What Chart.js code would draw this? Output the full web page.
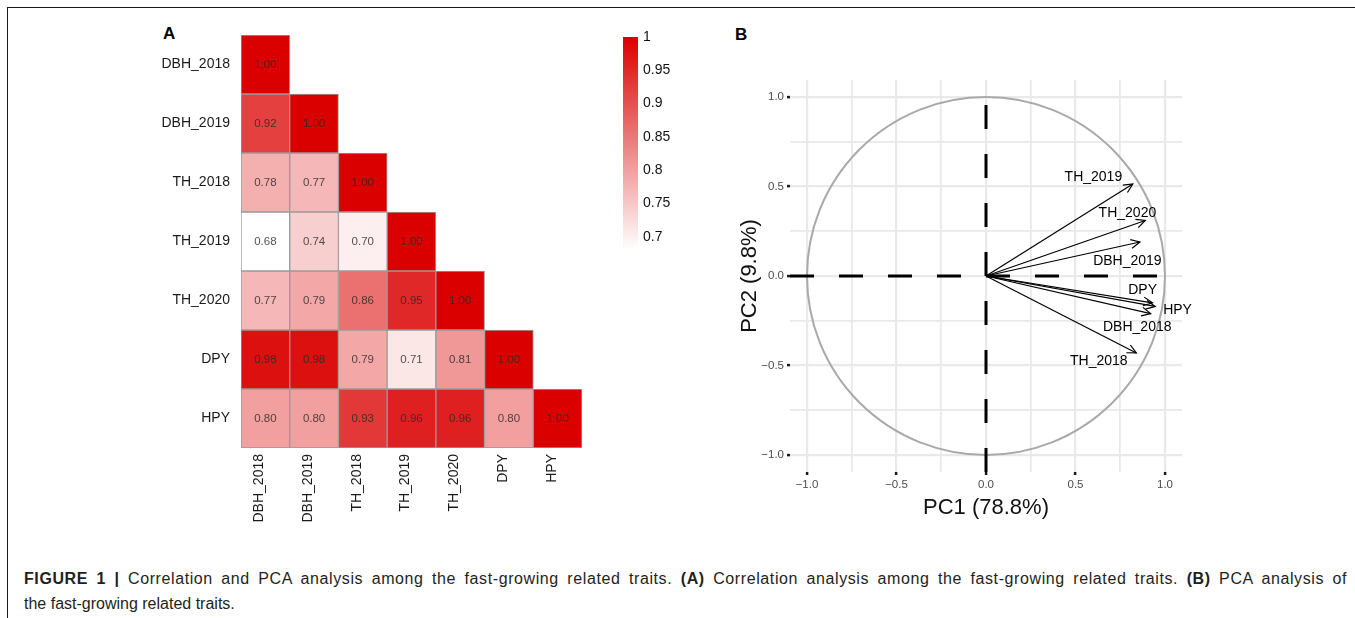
<!DOCTYPE html>
<html>
<head>
<meta charset="utf-8">
<script src="https://cdn.jsdelivr.net/npm/chart.js@4.4.1/dist/chart.umd.min.js"></script>
<style>
  html, body { margin: 0; padding: 0; background: #fff; }
  body { width: 1355px; height: 618px; position: relative; overflow: hidden; font-family: "Liberation Sans", Arial, sans-serif; }
  .frame { position: absolute; left: 7px; top: 7px; width: 1360px; height: 620px; border-top: 1.5px solid #1a1a1a; border-left: 1.5px solid #1a1a1a; }
  canvas { position: absolute; }
  .panel { position: absolute; font-weight: bold; font-size: 17px; color: #000; }
  .caption { position: absolute; left: 24px; top: 566px; width: 1323px; font-size: 16px; line-height: 25px; color: #231f20; }
  .caption .l1 { text-align: justify; text-align-last: justify; white-space: nowrap; letter-spacing: 0.6px; }
</style>
</head>
<body>
<div class="frame"></div>
<div class="panel" style="left:163px;top:24px;">A</div>
<div class="panel" style="left:735px;top:25px;">B</div>
<canvas id="heat" width="440" height="505" style="left:150px;top:25px;"></canvas>
<canvas id="cbar" width="80" height="240" style="left:615px;top:25px;"></canvas>
<canvas id="pca" width="470" height="460" style="left:725px;top:70px;"></canvas>
<div class="caption">
  <div class="l1"><b>FIGURE 1 |</b> Correlation and PCA analysis among the fast-growing related traits. <b>(A)</b> Correlation analysis among the fast-growing related traits. <b>(B)</b> PCA analysis of</div>
  <div>the fast-growing related traits.</div>
</div>
<script>
Chart.defaults.font.family = '"Liberation Sans", Arial, sans-serif';
Chart.defaults.color = '#1a1a1a';

// correlation matrix (lower triangle, row by row)
const traits = ['DBH_2018', 'DBH_2019', 'TH_2018', 'TH_2019', 'TH_2020', 'DPY', 'HPY'];
const corrRows = [
  [1.00],
  [0.92, 1.00],
  [0.78, 0.77, 1.00],
  [0.68, 0.74, 0.70, 1.00],
  [0.77, 0.79, 0.86, 0.95, 1.00],
  [0.98, 0.98, 0.79, 0.71, 0.81, 1.00],
  [0.80, 0.80, 0.93, 0.96, 0.96, 0.80, 1.00]
];
const colorbarTicks = [0.7, 0.75, 0.8, 0.85, 0.9, 0.95, 1];

// PCA loadings and where their labels sit
const pcaNames = ['DBH_2018', 'DBH_2019', 'TH_2018', 'TH_2019', 'TH_2020', 'DPY', 'HPY'];
const pc1 = [0.92, 0.86, 0.84, 0.82, 0.89, 0.93, 0.945];
const pc2 = [-0.21, 0.19, -0.43, 0.514, 0.31, -0.15, -0.17];
const labelX = [0.845, 0.79, 0.63, 0.60, 0.79, 0.875, 1.07];
const labelY = [-0.285, 0.085, -0.475, 0.55, 0.35, -0.08, -0.19];
const pcaTicks = [-1, -0.75, -0.5, -0.25, 0, 0.25, 0.5, 0.75, 1];
const AX = 1.095;

const cMin = Math.min(...corrRows.flat());
const cMax = 1;
const lowCol = [255, 255, 255];
const highCol = [219, 0, 0];

function fillFor(v) {
  const t = Math.max(0, Math.min(1, (v - cMin) / (cMax - cMin)));
  const c = lowCol.map((l, k) => Math.round(l + (highCol[k] - l) * t));
  return `rgb(${c[0]},${c[1]},${c[2]})`;
}

const cellLabels = {
  id: 'cellLabels',
  afterDatasetsDraw(chart) {
    const ctx = chart.ctx;
    ctx.save();
    ctx.font = '11.5px "Liberation Sans", Arial, sans-serif';
    ctx.fillStyle = 'rgba(40,40,40,0.8)';
    ctx.textAlign = 'center';
    ctx.textBaseline = 'middle';
    corrRows.forEach((row, i) => {
      chart.getDatasetMeta(i).data.forEach((bar, j) => {
        if (j >= row.length) return;
        ctx.fillText(row[j].toFixed(2), bar.x, (bar.y + bar.base) / 2);
      });
    });
    ctx.restore();
  }
};

new Chart(document.getElementById('heat'), {
  type: 'bar',
  data: {
    labels: traits,
    datasets: corrRows.map((row, i) => ({
      label: traits[i],
      data: traits.map((_, j) => (j < row.length ? [i, i + 1] : null)),
      backgroundColor: traits.map((_, j) => (j < row.length ? fillFor(row[j]) : 'rgba(0,0,0,0)')),
      borderColor: '#9a9a9a',
      borderWidth: 1,
      borderSkipped: false,
      grouped: false,
      barPercentage: 1,
      categoryPercentage: 1
    }))
  },
  options: {
    responsive: false,
    animation: false,
    layout: { padding: { left: 0, right: 8, top: 10, bottom: 2 } },
    plugins: { legend: { display: false }, tooltip: { enabled: false } },
    scales: {
      x: {
        type: 'category',
        grid: { display: false, drawTicks: false },
        border: { display: false },
        ticks: { maxRotation: 90, minRotation: 90, padding: 6, labelOffset: -6, color: '#1a1a1a', font: { size: 14 } },
        afterFit: s => { s.height = 80; s.paddingLeft = 0; s.paddingRight = 0; }
      },
      y: {
        type: 'linear',
        min: 0,
        max: traits.length,
        reverse: true,
        grid: { display: false, drawTicks: false },
        border: { display: false },
        afterBuildTicks: s => { s.ticks = traits.map((_, i) => ({ value: i + 0.5 })); },
        ticks: { padding: 11, color: '#1a1a1a', font: { size: 14 }, callback: v => traits[Math.floor(v)] },
        afterFit: s => { s.width = 91; s.paddingTop = 0; s.paddingBottom = 0; }
      }
    }
  },
  plugins: [cellLabels]
});

new Chart(document.getElementById('cbar'), {
  type: 'bar',
  data: {
    labels: ['r'],
    datasets: [{
      data: [[cMin, cMax]],
      backgroundColor: c => {
        const chart = c.chart;
        if (!chart.chartArea) return fillFor(cMax);
        const y = chart.scales.y;
        const g = chart.ctx.createLinearGradient(0, y.getPixelForValue(cMin), 0, y.getPixelForValue(cMax));
        g.addColorStop(0, fillFor(cMin));
        g.addColorStop(1, fillFor(cMax));
        return g;
      },
      borderWidth: 0,
      barPercentage: 1,
      categoryPercentage: 1
    }]
  },
  options: {
    responsive: false,
    animation: false,
    layout: { padding: { left: 8, top: 12, bottom: 15, right: 0 } },
    plugins: { legend: { display: false }, tooltip: { enabled: false } },
    scales: {
      x: { display: false },
      y: {
        position: 'right',
        min: cMin,
        max: cMax,
        grid: { display: false, drawTicks: false },
        border: { display: false },
        afterBuildTicks: s => { s.ticks = colorbarTicks.map(v => ({ value: v })); },
        ticks: { padding: 5, color: '#111', font: { size: 14 }, callback: v => String(+v.toFixed(2)) },
        afterFit: s => { s.width = 57; s.paddingTop = 0; s.paddingBottom = 0; }
      }
    }
  }
});

function isMajor(c) {
  return c.tick && Math.abs(c.tick.value * 2 - Math.round(c.tick.value * 2)) < 1e-6;
}
function fmtTick(v) {
  if (Math.abs(v * 2 - Math.round(v * 2)) > 1e-6) return '';
  return (v < 0 ? '\u2212' : '') + Math.abs(v).toFixed(1);
}

const pcaDecor = {
  id: 'pcaDecor',
  beforeDatasetsDraw(chart) {
    const { ctx, scales: { x, y } } = chart;
    const cx = x.getPixelForValue(0), cy = y.getPixelForValue(0);
    ctx.save();
    ctx.strokeStyle = '#a9a9a9';
    ctx.lineWidth = 2;
    ctx.beginPath();
    ctx.ellipse(cx, cy, x.getPixelForValue(1) - cx, cy - y.getPixelForValue(1), 0, 0, Math.PI * 2);
    ctx.stroke();
    ctx.restore();
  },
  afterDatasetsDraw(chart) {
    const { ctx, scales: { x, y } } = chart;
    ctx.save();
    ctx.strokeStyle = '#000';
    ctx.lineWidth = 1.2;
    pcaNames.forEach((n, i) => {
      const pts = chart.getDatasetMeta(i).data;
      const a = Math.atan2(pts[1].y - pts[0].y, pts[1].x - pts[0].x);
      const len = 10, spread = 0.45;
      ctx.beginPath();
      ctx.moveTo(pts[1].x - len * Math.cos(a - spread), pts[1].y - len * Math.sin(a - spread));
      ctx.lineTo(pts[1].x, pts[1].y);
      ctx.lineTo(pts[1].x - len * Math.cos(a + spread), pts[1].y - len * Math.sin(a + spread));
      ctx.stroke();
    });
    ctx.font = '14px "Liberation Sans", Arial, sans-serif';
    ctx.fillStyle = '#000';
    ctx.textAlign = 'center';
    ctx.textBaseline = 'middle';
    pcaNames.forEach((n, i) => {
      ctx.fillText(n, x.getPixelForValue(labelX[i]), y.getPixelForValue(labelY[i]));
    });
    ctx.restore();
  }
};

const pcaGrid = {
  color: '#e9e9e9',
  lineWidth: c => (isMajor(c) ? 2.2 : 1.7),
  tickColor: c => (isMajor(c) ? '#1a1a1a' : 'rgba(0,0,0,0)'),
  tickLength: 3,
  tickWidth: 2.5
};

new Chart(document.getElementById('pca'), {
  type: 'scatter',
  data: {
    datasets: [
      ...pcaNames.map((n, i) => ({
        label: n,
        data: [{ x: 0, y: 0 }, { x: pc1[i], y: pc2[i] }],
        showLine: true,
        borderColor: '#000',
        borderWidth: 1.2,
        pointRadius: 0
      })),
      {
        label: 'h0',
        data: [{ x: -AX, y: 0 }, { x: AX, y: 0 }],
        showLine: true, borderColor: '#000', borderWidth: 3, borderDash: [24, 25], pointRadius: 0, borderCapStyle: 'butt'
      },
      {
        label: 'v0',
        data: [{ x: 0, y: -AX }, { x: 0, y: AX }],
        showLine: true, borderColor: '#000', borderWidth: 3, borderDash: [24, 25], pointRadius: 0, borderCapStyle: 'butt'
      }
    ]
  },
  options: {
    responsive: false,
    animation: false,
    layout: { padding: { left: 0, right: 13, top: 10, bottom: 0 } },
    plugins: { legend: { display: false }, tooltip: { enabled: false } },
    scales: {
      x: {
        type: 'linear', min: -AX, max: AX,
        afterBuildTicks: s => { s.ticks = pcaTicks.map(v => ({ value: v })); },
        grid: pcaGrid,
        border: { display: false },
        ticks: { padding: 3, color: '#4d4d4d', font: { size: 11.5 }, callback: fmtTick, autoSkip: false, maxRotation: 0 },
        title: { display: true, text: 'PC1 (78.8%)', color: '#111', font: { size: 22 }, padding: { top: 0, bottom: 9 } },
        afterFit: s => { s.height = 58; }
      },
      y: {
        type: 'linear', min: -AX, max: AX,
        afterBuildTicks: s => { s.ticks = pcaTicks.map(v => ({ value: v })); },
        grid: pcaGrid,
        border: { display: false },
        ticks: { padding: 3, color: '#4d4d4d', font: { size: 11.5 }, callback: fmtTick, autoSkip: false },
        title: { display: true, text: 'PC2 (9.8%)', color: '#111', font: { size: 22 }, padding: { top: 12, bottom: 0 } },
        afterFit: s => { s.width = 65; }
      }
    }
  },
  plugins: [pcaDecor]
});
</script>
</body>
</html>
